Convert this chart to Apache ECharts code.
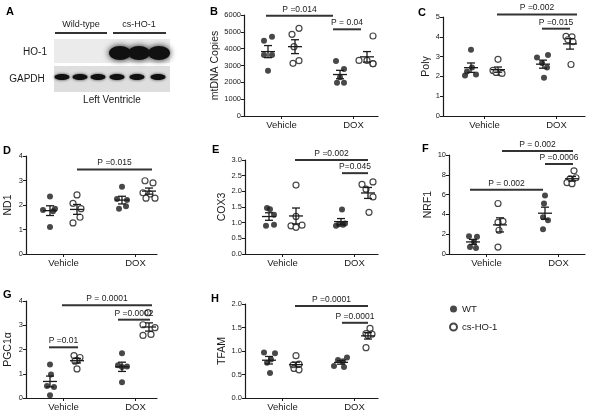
<!DOCTYPE html>
<html>
<head>
<meta charset="utf-8">
<title>HO-1 and mitochondrial markers</title>
<script src="https://cdn.jsdelivr.net/npm/echarts@6/dist/echarts.min.js"></script>
<style>
  html, body { margin: 0; padding: 0; background: #fff; }
  #chart { width: 600px; height: 416px; }
</style>
</head>
<body>
<div id="chart"></div>
<script>
const FONT = 'Liberation Sans, Arial, sans-serif';
const groups = ['Vehicle', 'DOX'];
const legendNames = ['WT', 'cs-HO-1'];

// every array: [Vehicle values, DOX values]
const mtdnaWT = [[4475, 4713, 3624, 3624, 2693], [3267, 2792, 2297, 1980, 1980]];
const mtdnaHO = [[4851, 5208, 4119, 3129, 3287], [4752, 3300, 3300, 3120, 3100]];
const polgWT = [[3.35, 2.45, 2.25, 2.1, 2.05], [3.08, 2.95, 2.68, 2.45, 1.93]];
const polgHO = [[2.86, 2.3, 2.2, 2.2, 2.15], [4.02, 4.0, 3.85, 3.75, 2.6]];
const nd1WT = [[2.35, 1.85, 1.8, 1.75, 1.1], [2.75, 2.25, 2.2, 1.95, 1.85]];
const nd1HO = [[2.41, 2.07, 1.85, 1.5, 1.27], [2.99, 2.9, 2.5, 2.45, 2.28, 2.28]];
const cox3WT = [[1.47, 1.43, 1.25, 0.93, 0.9], [1.42, 0.95, 0.93, 0.9, 0.97]];
const cox3HO = [[2.2, 1.2, 0.9, 0.85, 0.92], [2.3, 2.22, 2.07, 1.82, 1.33]];
const nrf1WT = [[1.8, 1.75, 1.25, 0.7, 0.6], [5.9, 5.1, 3.4, 3.7, 2.5]];
const nrf1HO = [[5.1, 3.3, 3.2, 2.4, 0.7], [8.4, 7.7, 7.6, 7.2, 7.1]];
const pgcWT = [[1.38, 0.97, 0.5, 0.45, 0.11], [1.85, 1.35, 1.3, 1.28, 0.65]];
const pgcHO = [[1.75, 1.67, 1.55, 1.52, 1.2], [3.52, 3.02, 2.9, 2.62, 2.58]];
const tfamWT = [[0.97, 0.95, 0.82, 0.75, 0.53], [0.86, 0.81, 0.78, 0.68, 0.66]];
const tfamHO = [[0.9, 0.72, 0.7, 0.63, 0.6], [1.48, 1.37, 1.36, 1.33, 1.07]];

// significance bars: [height, label]
const mtdnaP = [[5950, 'P =0.014'], [5150, 'P = 0.04']];
const polgP = [[5.12, 'P =0.002'], [4.41, 'P =0.015']];
const nd1P = [[3.45, 'P =0.015']];
const cox3P = [[3.0, 'P =0.002'], [2.58, 'P=0.045']];
const nrf1P = [[10.4, 'P = 0.002'], [9.09, 'P =0.0006'], [6.48, 'P = 0.002']];
const pgcP = [[3.82, 'P = 0.0001'], [3.23, 'P =0.0002'], [2.09, 'P =0.01']];
const tfamP = [[1.96, 'P =0.0001'], [1.6, 'P =0.0001']];

// x slots (px from axis start): Vehicle WT, Vehicle HO, DOX WT, DOX HO
const SLOTS = [24, 51, 96, 123];

const panels = [
  { letter: 'B', lp: [210, 6], name: 'mtDNA Copies', gap: 16, wt: mtdnaWT, ho: mtdnaHO, p: mtdnaP,
    box: [244, 15, 134, 101], max: 6000, step: 1000, dec: 0, shift: 0,
    spans: [[22, 89], [89, 117]],
    jw: [[-4, 4, -4, 4, 0], [-4, 4, 0, -3, 4]], jh: [[-3, 4, -1, -2, 4], [6, -8, 0, 6, 6]] },
  { letter: 'C', lp: [418, 7], name: 'Polγ', gap: 9, wt: polgWT, ho: polgHO, p: polgP,
    box: [443, 17, 142, 99], max: 5, step: 1, dec: 0, shift: 4,
    spans: [[54, 134], [99, 127]],
    jw: [[0, 1, -4, 5, -6], [5, -6, -1, 4, 1]], jh: [[0, -5, 2, -2, 4], [-4, 2, -2, 3, 1]] },
  { letter: 'D', lp: [3, 145], name: 'ND1', gap: 12, wt: nd1WT, ho: nd1HO, p: nd1P,
    box: [26, 156, 131, 98], max: 4, step: 1, dec: 0, shift: 0,
    spans: [[51, 126]],
    jw: [[0, 5, -7, 3, 0], [0, -5, 5, 4, -3]], jh: [[0, -4, 4, 3, -4], [-4, 4, -6, 1, -3, 6]] },
  { letter: 'E', lp: [212, 144], name: 'COX3', gap: 15, wt: cox3WT, ho: cox3HO, p: cox3P,
    box: [245, 160, 133, 94], max: 3, step: 0.5, dec: 1, shift: 0,
    spans: [[50, 123], [97, 123]],
    jw: [[-2, 1, 5, 5, -3], [1, -2, 2, -5, 4]], jh: [[0, 0, -5, 0, 6], [5, -6, -2, 5, 1]] },
  { letter: 'F', lp: [422, 143], name: 'NRF1', gap: 12, wt: nrf1WT, ho: nrf1HO, p: nrf1P,
    box: [449, 155, 136, 99], max: 10, step: 2, dec: 0, shift: 0,
    spans: [[53, 124], [96, 124], [21, 94]],
    jw: [[-4, 4, 1, -3, 3], [0, -1, 3, -2, -2]], jh: [[-2, 3, -2, -1, -2], [2, 4, -2, -5, 0]] },
  { letter: 'G', lp: [3, 289], name: 'PGC1α', gap: 12, wt: pgcWT, ho: pgcHO, p: pgcP,
    box: [26, 301, 131, 97], max: 4, step: 1, dec: 0, shift: 0,
    spans: [[36, 126], [92, 124], [23, 52]],
    jw: [[0, 1, -3, 4, 0], [0, -4, 5, 0, 0]], jh: [[-3, 3, 0, -2, 0], [-1, -6, 6, 2, -6]] },
  { letter: 'H', lp: [211, 293], name: 'TFAM', gap: 14, wt: tfamWT, ho: tfamHO, p: tfamP,
    box: [245, 304, 133, 94], max: 2, step: 0.5, dec: 1, shift: 0,
    spans: [[50, 123], [97, 123]],
    jw: [[-5, 6, 2, -2, 1], [6, -3, 2, -7, 3]], jh: [[0, 3, -3, -2, 3], [2, -2, 4, 0, -2]] }
];

function meanSem(arr) {
  const n = arr.length;
  const m = arr.reduce((a, b) => a + b, 0) / n;
  const sd = Math.sqrt(arr.reduce((a, b) => a + (b - m) * (b - m), 0) / (n - 1));
  return [m, sd / Math.sqrt(n)];
}

const grid = [], xAxis = [], yAxis = [], series = [];
const ink = '#1a1a1a';

panels.forEach((p, k) => {
  const slot = SLOTS.map(s => s + p.shift);
  grid.push({ left: p.box[0], top: p.box[1], width: p.box[2], height: p.box[3] });
  const centers = [(slot[0] + slot[1]) / 2, (slot[2] + slot[3]) / 2];
  xAxis.push({
    gridIndex: k, type: 'value', min: 0, max: p.box[2],
    splitLine: { show: false },
    axisLine: { lineStyle: { color: ink, width: 1.2 } },
    axisTick: { customValues: centers, length: 3, lineStyle: { color: ink } },
    axisLabel: {
      customValues: centers, fontSize: 9.5, margin: 4, color: ink, fontFamily: FONT,
      formatter: v => v < p.box[2] / 2 ? groups[0] : groups[1]
    }
  });
  yAxis.push({
    gridIndex: k, type: 'value', min: 0, max: p.max, interval: p.step,
    name: p.name, nameLocation: 'middle', nameGap: p.gap,
    nameTextStyle: { fontSize: 10.5, color: ink, fontFamily: FONT },
    splitLine: { show: false },
    axisLine: { show: true, lineStyle: { color: ink, width: 1.2 } },
    axisTick: { show: true, length: 3, lineStyle: { color: ink } },
    axisLabel: { fontSize: 7.5, margin: 3, color: ink, fontFamily: FONT, formatter: v => v.toFixed(p.dec) }
  });

  const pts = (vals, jit, base) => vals.flatMap((arr, g) => arr.map((v, i) => [slot[base + 2 * g] + jit[g][i], v]));
  series.push({
    name: legendNames[0], type: 'scatter', xAxisIndex: k, yAxisIndex: k,
    data: pts(p.wt, p.jw, 0), symbol: 'circle', symbolSize: 6,
    itemStyle: { color: ink }, silent: true
  });
  series.push({
    name: legendNames[1], type: 'scatter', xAxisIndex: k, yAxisIndex: k,
    data: pts(p.ho, p.jh, 1), symbol: 'circle', symbolSize: 6,
    itemStyle: { color: '#fff', borderColor: ink, borderWidth: 1.2 }, silent: true
  });

  const stats = [];
  [0, 1].forEach(g => {
    stats.push([slot[2 * g]].concat(meanSem(p.wt[g])));
    stats.push([slot[2 * g + 1]].concat(meanSem(p.ho[g])));
  });
  series.push({
    type: 'custom', xAxisIndex: k, yAxisIndex: k, data: stats, silent: true, clip: false, z: 5,
    encode: { x: 0, y: 1 },
    renderItem: (params, api) => {
      const x = api.value(0), m = api.value(1), s = api.value(2);
      const c = api.coord([x, m]);
      const t = api.coord([x, m + s])[1];
      const b = api.coord([x, m - s])[1];
      const st = { stroke: ink, lineWidth: 1.3 };
      return {
        type: 'group', children: [
          { type: 'line', shape: { x1: c[0] - 7, y1: c[1], x2: c[0] + 7, y2: c[1] }, style: st },
          { type: 'line', shape: { x1: c[0], y1: t, x2: c[0], y2: b }, style: st },
          { type: 'line', shape: { x1: c[0] - 4, y1: t, x2: c[0] + 4, y2: t }, style: st },
          { type: 'line', shape: { x1: c[0] - 4, y1: b, x2: c[0] + 4, y2: b }, style: st }
        ]
      };
    }
  });

  series.push({
    type: 'custom', xAxisIndex: k, yAxisIndex: k, silent: true, clip: false, z: 5,
    data: p.p.map((d, i) => [p.spans[i][0], p.spans[i][1], d[0]]),
    encode: { x: [0, 1], y: 2 },
    renderItem: (params, api) => {
      const a = api.coord([api.value(0), api.value(2)]);
      const b = api.coord([api.value(1), api.value(2)]);
      return {
        type: 'group', children: [
          { type: 'line', shape: { x1: a[0], y1: a[1], x2: b[0], y2: b[1] }, style: { stroke: '#333', lineWidth: 2 } },
          { type: 'text', style: {
              x: (a[0] + b[0]) / 2, y: a[1] - 2, text: p.p[params.dataIndex][1],
              fontSize: 8.5, fontFamily: FONT, fill: ink, textAlign: 'center', textVerticalAlign: 'bottom' } }
        ]
      };
    }
  });
});

// panel A: western blot, drawn as plain shapes
const blot = [
  { type: 'rect', shape: { x: 54, y: 39, width: 116, height: 24 }, style: { fill: '#ebebeb' } },
  { type: 'rect', shape: { x: 54, y: 66, width: 116, height: 26 }, style: { fill: '#dedede' } },
  { type: 'line', shape: { x1: 55, y1: 33, x2: 107, y2: 33 }, style: { stroke: '#333', lineWidth: 2 } },
  { type: 'line', shape: { x1: 113, y1: 33, x2: 166, y2: 33 }, style: { stroke: '#333', lineWidth: 2 } }
];
[120, 139, 159].forEach(cx => blot.push({
  type: 'ellipse', shape: { cx: cx, cy: 53, rx: 11, ry: 7 },
  style: { fill: '#111', shadowBlur: 6, shadowColor: '#111' }
}));
[62, 80, 98, 117, 137, 158].forEach(cx => blot.push({
  type: 'ellipse', shape: { cx: cx, cy: 77, rx: 7.5, ry: 3 },
  style: { fill: '#111', shadowBlur: 3, shadowColor: '#333' }
}));
const txt = (x, y, text, size) => ({
  type: 'text', x: x, y: y,
  style: { text: text, fontSize: size, fontFamily: FONT, fill: ink, textAlign: 'center', textVerticalAlign: 'middle' }
});
blot.push(txt(81, 25, 'Wild-type', 9));
blot.push(txt(139, 25, 'cs-HO-1', 9));
blot.push(txt(35, 52, 'HO-1', 10));
blot.push(txt(27, 79, 'GAPDH', 10));
blot.push(txt(112, 100, 'Left Ventricle', 10));

const letters = [{ letter: 'A', lp: [6, 6] }].concat(panels).map(p => ({
  type: 'text', left: p.lp[0], top: p.lp[1],
  style: { text: p.letter, fontSize: 11, fontWeight: 'bold', fontFamily: FONT, fill: '#000' }
}));

const chart = echarts.init(document.getElementById('chart'));
chart.setOption({
  animation: false,
  backgroundColor: '#fff',
  grid: grid,
  xAxis: xAxis,
  yAxis: yAxis,
  legend: {
    data: legendNames, orient: 'vertical', left: 444, top: 299,
    itemWidth: 7, itemHeight: 7, itemGap: 8, selectedMode: false,
    textStyle: { fontSize: 9.5, color: ink, fontFamily: FONT }
  },
  graphic: blot.concat(letters),
  series: series
});
</script>
</body>
</html>
